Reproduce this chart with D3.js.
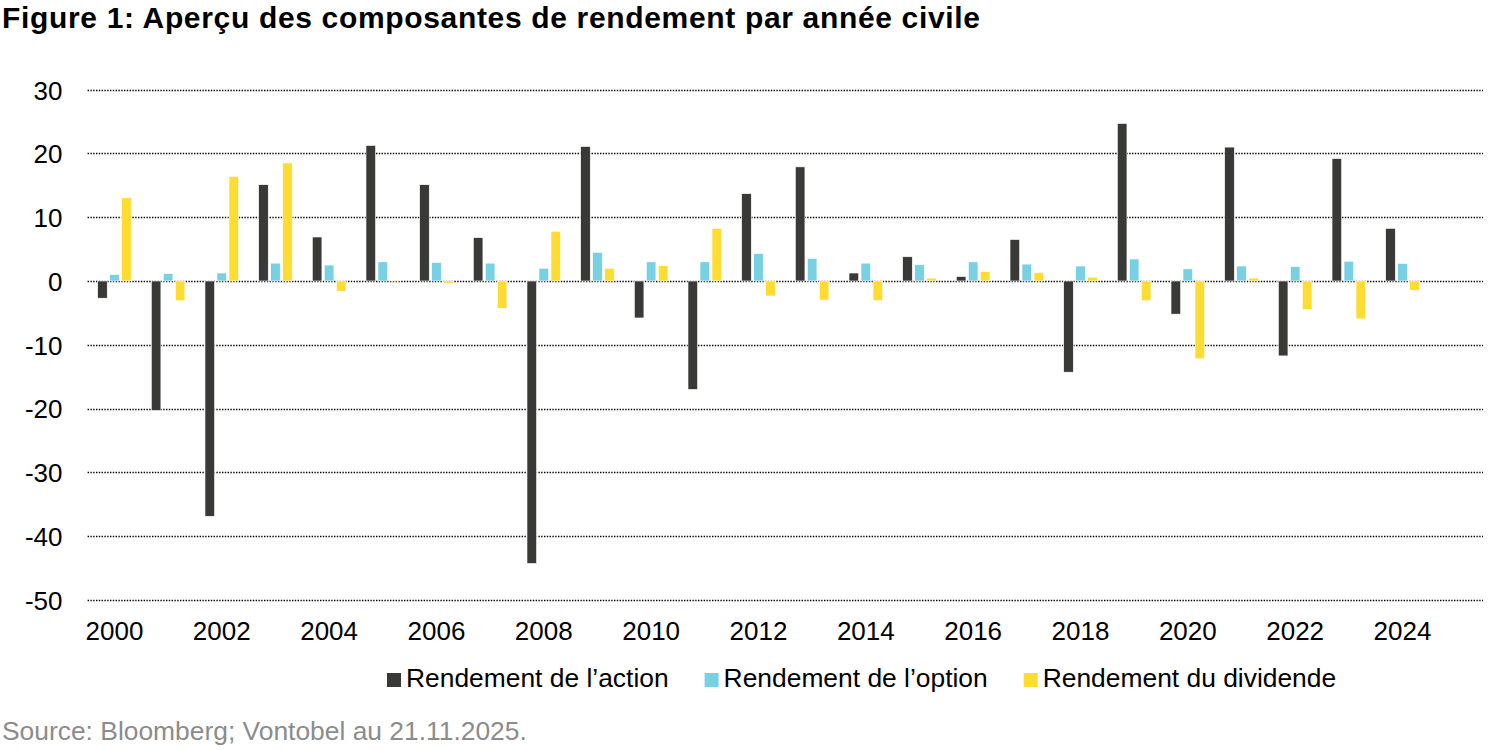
<!DOCTYPE html>
<html lang="fr">
<head>
    <meta charset="UTF-8">
    <title>Composantes de rendement</title>
    <script src="https://d3js.org/d3.v7.min.js"></script>
    <style>
        body { margin: 0; background: #fff; }
        text { font-family: "Liberation Sans", Arial, sans-serif; }
        .grid line { stroke: #000; stroke-width: 1.4; stroke-dasharray: 1.4,1.4; }
    </style>
</head>
<body>
<script>
    const width = 1500;
    const height = 750;

    // années civiles (2025 sans valeur)
    const years = d3.range(2000, 2026).map(String);
    const tickYears = d3.range(2000, 2025, 2).map(String);
    const yTicks = [30, 20, 10, 0, -10, -20, -30, -40, -50];

    const seriesNames = ["Rendement de l’action", "Rendement de l’option", "Rendement du dividende"];
    const seriesColors = ["#393a37", "#78d1e3", "#fedc32"];

    const actionReturn = [-2.7, -20.3, -36.9, 15.1, 6.9, 21.25, 15.1, 6.8, -44.3, 21.1, -5.8, -17.0, 13.7,
        17.9, 1.25, 3.8, 0.7, 6.5, -14.3, 24.7, -5.2, 21.0, -11.75, 19.2, 8.25, null];
    const optionReturn = [1.0, 1.15, 1.25, 2.8, 2.5, 3.0, 2.9, 2.8, 2.0, 4.5, 3.0, 3.0, 4.3,
        3.55, 2.8, 2.55, 3.0, 2.65, 2.35, 3.45, 1.9, 2.35, 2.25, 3.1, 2.75, null];
    const dividendReturn = [13.05, -3.1, 16.4, 18.5, -1.6, 0.15, -0.35, -4.3, 7.8, 2.0, 2.4, 8.25, -2.35,
        -3.0, -3.1, 0.45, 1.45, 1.3, 0.6, -3.1, -12.2, 0.45, -4.45, -5.95, -1.45, null];

    const seriesValues = [actionReturn, optionReturn, dividendReturn];

    const rows = years.flatMap((year, i) =>
        seriesNames.map((name, s) => ({year, name, value: seriesValues[s][i]}))
    ).filter(d => d.value != null);

    const svg = d3.select("body").append("svg")
        .attr("width", width)
        .attr("height", height);

    const x = d3.scaleBand().domain(years).range([87.6, 1483]);
    const xInner = d3.scaleBand().domain(seriesNames).range([-16.8, 16.8]).paddingInner(0.2);
    const y = d3.scaleLinear().domain([-50, 30]).range([599.8, 89.7]);
    const color = d3.scaleOrdinal().domain(seriesNames).range(seriesColors);

    // titre
    svg.append("text")
        .attr("x", 2)
        .attr("y", 27.5)
        .attr("font-size", 30)
        .attr("font-weight", "bold")
        .attr("fill", "#000")
        .attr("textLength", 978)
        .attr("lengthAdjust", "spacing")
        .text("Figure 1: Aperçu des composantes de rendement par année civile");

    // grille pointillée
    svg.append("g")
        .attr("class", "grid")
        .selectAll("line")
        .data(yTicks)
        .enter().append("line")
        .attr("x1", 87.6)
        .attr("x2", 1483)
        .attr("y1", d => Math.round(y(d)) + 0.5)
        .attr("y2", d => Math.round(y(d)) + 0.5);

    // axe y (trait d'union comme signe moins)
    const yAxis = svg.append("g")
        .attr("transform", "translate(62.5,0)")
        .call(d3.axisLeft(y).tickValues(yTicks).tickSize(0).tickPadding(0).tickFormat(d => String(d)));
    yAxis.select(".domain").remove();
    yAxis.selectAll("text")
        .attr("font-size", 26)
        .attr("fill", "#000")
        .attr("dy", "0.36em");

    // barres
    svg.append("g")
        .selectAll("rect")
        .data(rows)
        .enter().append("rect")
        .attr("x", d => x(d.year) + x.bandwidth() / 2 + xInner(d.name))
        .attr("y", d => y(Math.max(0, d.value)))
        .attr("width", xInner.bandwidth())
        .attr("height", d => Math.abs(y(d.value) - y(0)))
        .attr("fill", d => color(d.name))
        .attr("stroke", "#fff")
        .attr("stroke-width", 0.6);

    // axe x
    const xAxis = svg.append("g")
        .attr("transform", "translate(0,640)")
        .call(d3.axisBottom(x).tickValues(tickYears).tickSize(0).tickPadding(0));
    xAxis.select(".domain").remove();
    xAxis.selectAll("text")
        .attr("font-size", 26)
        .attr("fill", "#000")
        .attr("dy", 0);

    // légende
    const legend = svg.append("g").attr("transform", "translate(387,687)");
    let lx = 0;
    seriesNames.forEach(name => {
        const item = legend.append("g").attr("transform", `translate(${lx},0)`);
        item.append("rect")
            .attr("x", 0)
            .attr("y", -14)
            .attr("width", 14)
            .attr("height", 14)
            .attr("fill", color(name));
        const t = item.append("text")
            .attr("x", 19)
            .attr("y", 0)
            .attr("font-size", 26.4)
            .attr("fill", "#000")
            .text(name);
        lx += 19 + t.node().getComputedTextLength() + 36;
    });

    // source
    svg.append("text")
        .attr("x", 2)
        .attr("y", 740)
        .attr("font-size", 26.4)
        .attr("fill", "#8c8c8c")
        .text("Source: Bloomberg; Vontobel au 21.11.2025.");
</script>
</body>
</html>
